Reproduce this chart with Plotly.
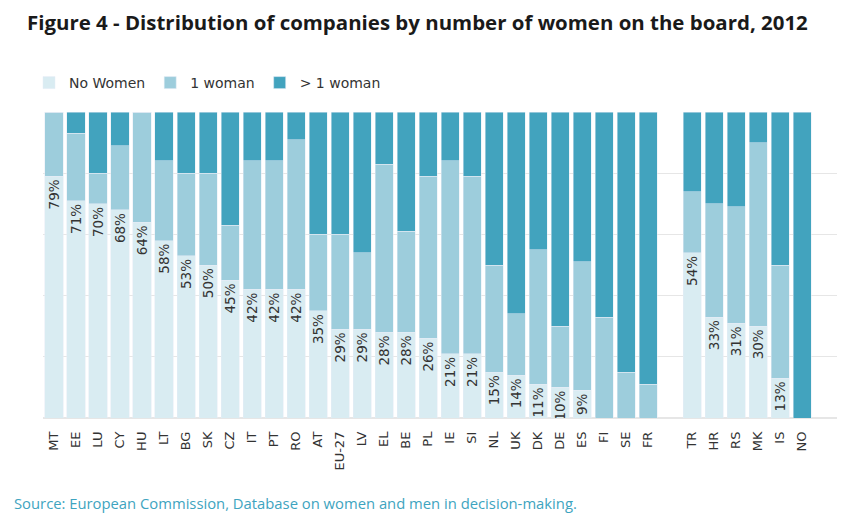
import plotly.graph_objects as go

countries = ["MT", "EE", "LU", "CY", "HU", "LT", "BG", "SK", "CZ", "IT", "PT", "RO", "AT", "EU-27",
             "LV", "EL", "BE", "PL", "IE", "SI", "NL", "UK", "DK", "DE", "ES", "FI", "SE", "FR",
             " ", "TR", "HR", "RS", "MK", "IS", "NO"]
no_women = [79, 71, 70, 68, 64, 58, 53, 50, 45, 42, 42, 42, 35, 29,
            29, 28, 28, 26, 21, 21, 15, 14, 11, 10, 9, 0, 0, 0,
            None, 54, 33, 31, 30, 13, 0]
one_woman = [21, 22, 10, 21, 36, 26, 27, 30, 18, 42, 42, 49, 25, 31,
             25, 55, 33, 53, 63, 58, 35, 20, 44, 20, 42, 33, 15, 11,
             None, 20, 37, 38, 60, 37, 0]
more_women = [0, 7, 20, 11, 0, 16, 20, 20, 37, 16, 16, 9, 40, 40,
              46, 17, 39, 21, 16, 21, 50, 66, 45, 70, 49, 67, 85, 89,
              None, 26, 30, 31, 10, 50, 100]

labels = [f"{v}%" if v else "" for v in no_women]

C_LIGHT = "#d9ecf2"
C_MID = "#9dcddc"
C_DARK = "#42a3be"
FONT = "Open Sans"
FONT2 = "DejaVu Sans"

# page adds an 8px body margin, so the figure is laid out 8px up/left
W, H = 837, 514
PLOT_TOP, PLOT_BOTTOM, PLOT_LEFT = 104, 410, 35
PLOT_H = PLOT_BOTTOM - PLOT_TOP
PLOT_W = W - PLOT_LEFT

fig = go.Figure()
fig.add_trace(go.Bar(x=countries, y=no_women, name="No Women", marker_color=C_LIGHT,
                     text=labels, textposition="inside", insidetextanchor="end",
                     textangle=-90, textfont=dict(size=13.5, color="#333333", family=FONT2),
                     constraintext="none", hoverinfo="x+y"))
fig.add_trace(go.Bar(x=countries, y=one_woman, name="1 woman", marker_color=C_MID))
fig.add_trace(go.Bar(x=countries, y=more_women, name="> 1 woman", marker_color=C_DARK))

fig.update_layout(
    barmode="stack",
    bargap=0.18,
    width=W, height=H,
    margin=dict(l=PLOT_LEFT, r=0, t=PLOT_TOP, b=H - PLOT_BOTTOM, autoexpand=False),
    paper_bgcolor="white", plot_bgcolor="white",
    font=dict(family=FONT, color="#333333"),
    title=dict(text="<b>Figure 4 - Distribution of companies by number of women on the board, 2012</b>",
               x=19/W, xanchor="left", xref="container", y=1-15/H, yanchor="middle",
               yref="container", font=dict(size=20.45, color="#1a1a1a", family=FONT)),
    legend=dict(orientation="h", x=-14/PLOT_W, xanchor="left", y=1 + (PLOT_TOP-75)/PLOT_H,
                yanchor="middle",
                font=dict(size=14, color="#333333", family=FONT2), traceorder="normal"),
    xaxis=dict(type="category", tickangle=-90, tickfont=dict(size=13, color="#333333", family=FONT2),
               range=[-0.5, 35.95], showgrid=False, showline=False, ticks="",
               ticklabelstandoff=10),
    yaxis=dict(range=[0, 100], dtick=20, showticklabels=False, gridcolor="#e6e6e6",
               zeroline=True, zerolinecolor="#e6e6e6", showline=False),
    showlegend=True,
)
fig.add_annotation(text="Source: European Commission, Database on women and men in decision-making.",
                   xref="paper", yref="paper", x=-31/PLOT_W, y=-(495-PLOT_BOTTOM)/PLOT_H, xanchor="left",
                   yanchor="middle", showarrow=False,
                   font=dict(size=14.8, color="#3ea4c0", family=FONT))

fig.write_html("out.html")
